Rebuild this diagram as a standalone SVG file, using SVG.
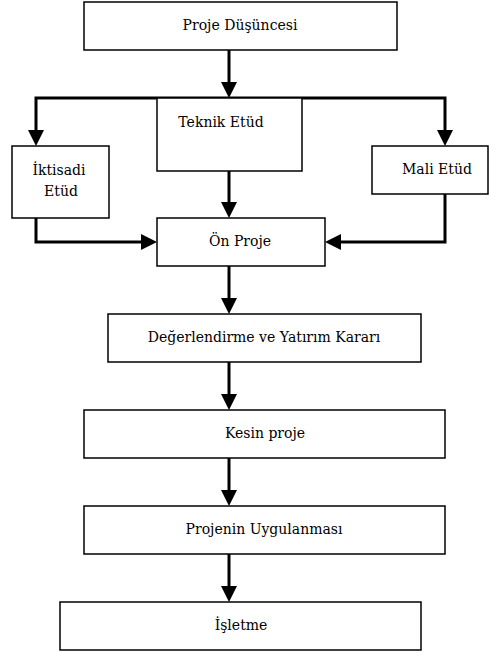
<svg xmlns="http://www.w3.org/2000/svg" width="489" height="653" viewBox="0 0 489 653">
<style>
.box{fill:#fff;stroke:#000;stroke-width:1.5}
.lbl{font-family:"DejaVu Serif","Liberation Serif",serif;font-size:14px;fill:#000;text-anchor:middle}
.con{fill:none;stroke:#000;stroke-width:3}
</style>
<defs>
<marker id="ah" markerUnits="userSpaceOnUse" markerWidth="16" markerHeight="16" refX="12" refY="8" orient="auto">
<path d="M0,0 L16,8 L0,16 z" fill="#000"/>
</marker>
</defs>
<g id="connectors">
<path class="con" d="M229,50 V94" marker-end="url(#ah)"/>
<path class="con" d="M229,98 H36 V142" marker-end="url(#ah)"/>
<path class="con" d="M229,98 H445 V142" marker-end="url(#ah)"/>
<path class="con" d="M229,171 V214" marker-end="url(#ah)"/>
<path class="con" d="M36,218 V242 H153" marker-end="url(#ah)"/>
<path class="con" d="M445,194 V242 H329" marker-end="url(#ah)"/>
<path class="con" d="M229,266 V310" marker-end="url(#ah)"/>
<path class="con" d="M229,362 V406" marker-end="url(#ah)"/>
<path class="con" d="M229,458 V502" marker-end="url(#ah)"/>
<path class="con" d="M229,554 V598" marker-end="url(#ah)"/>
</g>
<g id="n-proje-dusuncesi">
<rect class="box" x="84" y="2" width="313" height="48"/>
<text class="lbl" x="240" y="30">Proje Düşüncesi</text>
</g>
<g id="n-teknik">
<rect class="box" x="157" y="98" width="145" height="73"/>
<text class="lbl" x="221" y="127">Teknik Etüd</text>
</g>
<g id="n-iktisadi">
<rect class="box" x="12" y="146" width="97" height="72"/>
<text class="lbl" x="59" y="175">İktisadi</text>
<text class="lbl" x="61" y="196">Etüd</text>
</g>
<g id="n-mali">
<rect class="box" x="372" y="146" width="116" height="48"/>
<text class="lbl" x="437" y="174">Mali Etüd</text>
</g>
<g id="n-on-proje">
<rect class="box" x="157" y="218" width="168" height="48"/>
<text class="lbl" x="240" y="246">Ön Proje</text>
</g>
<g id="n-degerlendirme">
<rect class="box" x="108" y="314" width="313" height="48"/>
<text class="lbl" x="264" y="342">Değerlendirme ve Yatırım Kararı</text>
</g>
<g id="n-kesin">
<rect class="box" x="84" y="410" width="361" height="48"/>
<text class="lbl" x="265" y="438">Kesin proje</text>
</g>
<g id="n-uygulanma">
<rect class="box" x="84" y="506" width="361" height="48"/>
<text class="lbl" x="264" y="534">Projenin Uygulanması</text>
</g>
<g id="n-isletme">
<rect class="box" x="60" y="602" width="361" height="48"/>
<text class="lbl" x="241" y="630">İşletme</text>
</g>
</svg>
